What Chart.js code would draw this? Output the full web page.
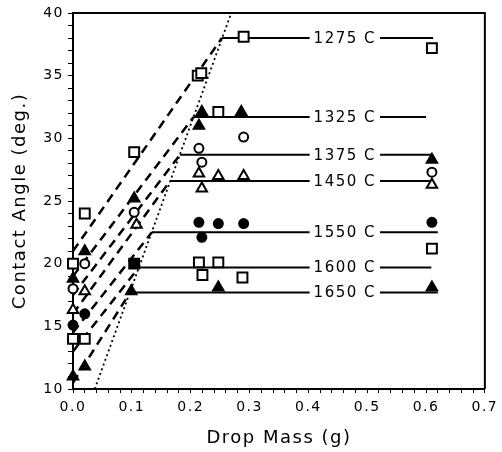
<!DOCTYPE html>
<html>
<head>
<meta charset="utf-8">
<script src="https://cdn.jsdelivr.net/npm/chart.js@4.4.1/dist/chart.umd.min.js"></script>
<style>
  html, body { margin: 0; padding: 0; background: #fff; }
  #wrap { width: 502px; height: 452px; }
</style>
</head>
<body>
<div id="wrap"><canvas id="myChart" width="502" height="452"></canvas></div>
<script>
// temperatures and their plateau lines
const temps = ["1275 C", "1325 C", "1375 C", "1450 C", "1550 C", "1600 C", "1650 C"];
const plateauAngle = [38.0, 31.7, 28.7, 26.6, 22.5, 19.7, 17.7];
const plateauFrom = [0.253, 0.205, 0.182, 0.165, 0.134, 0.112, 0.097];
const plateauTo = [0.612, 0.6, 0.609, 0.609, 0.62, 0.609, 0.62];
// dashed lines start on the y axis
const dashFromAngle = [21.0, 19.0, 17.5, 16.0, 14.5, 13.0, 10.5];
// dotted boundary line
const dotMass = [0.037, 0.269];
const dotAngle = [10, 40];

// measured points, by symbol
const openSquareMass = [0, 0.02, 0.104, 0.212, 0.218, 0.29, 0.61, 0.247, 0, 0.02, 0.214, 0.22, 0.247, 0.288, 0.61];
const openSquareAngle = [20, 24, 28.9, 35.0, 35.2, 38.1, 37.2, 32.1, 14, 14, 20.1, 19.1, 20.1, 18.9, 21.2];
const filledTriMass = [0, 0.02, 0.104, 0.219, 0.214, 0.286, 0.61, 0, 0.02, 0.099, 0.247, 0.61];
const filledTriAngle = [18.8, 21, 25.2, 32.1, 31, 32.1, 28.3, 11, 11.8, 17.8, 18.1, 18.1];
const openCircleMass = [0, 0.02, 0.104, 0.214, 0.219, 0.29, 0.61];
const openCircleAngle = [18, 20, 24.1, 29.2, 28.1, 30.1, 27.3];
const openTriMass = [0, 0.02, 0.108, 0.214, 0.247, 0.29, 0.219, 0.61];
const openTriAngle = [16.3, 17.8, 23.1, 27.2, 27, 27, 26, 26.3];
const filledCircleMass = [0, 0.02, 0.214, 0.219, 0.247, 0.29, 0.61];
const filledCircleAngle = [15.1, 16, 23.3, 22.1, 23.2, 23.2, 23.3];
const filledSquareMass = [0.104];
const filledSquareAngle = [20];

const LABEL_MASS = 0.462;
const FONT = "'DejaVu Sans', sans-serif";

const pts = (xs, ys) => xs.map((x, i) => ({ x: x, y: ys[i] }));

function markers(xs, ys, style, radius, filled) {
  return {
    data: pts(xs, ys),
    showLine: false,
    pointStyle: style,
    pointRadius: radius,
    pointBorderWidth: 2,
    pointBorderColor: "#000",
    pointBackgroundColor: filled ? "#000" : "#fff",
    clip: false,
  };
}

const datasets = [
  markers(openSquareMass, openSquareAngle, "rect", 7, false),
  markers(filledTriMass, filledTriAngle, "triangle", 6, true),
  markers(openCircleMass, openCircleAngle, "circle", 4.5, false),
  markers(openTriMass, openTriAngle, "triangle", 6, false),
  markers(filledCircleMass, filledCircleAngle, "circle", 4.5, true),
  markers(filledSquareMass, filledSquareAngle, "rect", 7, true),
];

// horizontal plateau lines
temps.forEach((t, i) => {
  datasets.push({
    data: [
      { x: plateauFrom[i], y: plateauAngle[i] },
      { x: plateauTo[i], y: plateauAngle[i] },
    ],
    showLine: true,
    borderColor: "#000",
    borderWidth: 2,
    pointRadius: 0,
  });
});

// dashed lines up to the plateau start
temps.forEach((t, i) => {
  datasets.push({
    data: [
      { x: 0, y: dashFromAngle[i] },
      { x: plateauFrom[i], y: plateauAngle[i] },
    ],
    showLine: true,
    borderColor: "#000",
    borderWidth: 2.5,
    borderDash: [9, 6],
    pointRadius: 0,
  });
});

datasets.push({
  data: pts(dotMass, dotAngle),
  showLine: true,
  borderColor: "#000",
  borderWidth: 1.8,
  borderDash: [2, 3],
  pointRadius: 0,
});

// temperature labels sitting on the lines + box frame
const tempLabels = {
  id: "tempLabels",
  beforeDraw(chart) {
    chart.ctx.letterSpacing = "1.5px";
  },
  afterDatasetsDraw(chart) {
    const { ctx, scales } = chart;
    ctx.save();
    ctx.letterSpacing = "1.5px";
    ctx.font = "15px " + FONT;
    ctx.textAlign = "center";
    ctx.textBaseline = "middle";
    temps.forEach((t, i) => {
      const px = scales.x.getPixelForValue(LABEL_MASS);
      const py = scales.y.getPixelForValue(plateauAngle[i]);
      const w = ctx.measureText(t).width;
      ctx.fillStyle = "#fff";
      ctx.fillRect(px - w / 2 - 4, py - 3, w + 8, 6);
      ctx.fillStyle = "#000";
      ctx.fillText(t, px, py + 1);
    });
    ctx.restore();
  },
  afterDraw(chart) {
    const { ctx, chartArea: a } = chart;
    ctx.save();
    ctx.strokeStyle = "#000";
    ctx.lineWidth = 2;
    ctx.beginPath();
    ctx.moveTo(a.left, a.top);
    ctx.lineTo(a.right, a.top);
    ctx.lineTo(a.right, a.bottom);
    ctx.stroke();
    ctx.restore();
  },
};

new Chart(document.getElementById("myChart"), {
  type: "scatter",
  data: { datasets: datasets },
  options: {
    responsive: false,
    animation: false,
    layout: { padding: { top: 13, right: 13, left: 0, bottom: 0 } },
    plugins: { legend: { display: false }, tooltip: { enabled: false } },
    scales: {
      x: {
        type: "linear",
        min: 0,
        max: 0.7,
        afterFit: (s) => { s.height = 63; },
        ticks: {
          stepSize: 0.02,
          autoSkip: false,
          maxRotation: 0,
          padding: 6,
          color: "#000",
          font: { family: FONT, size: 14 },
          callback: (v) => (Math.round(v * 50) % 5 === 0 ? v.toFixed(1) : ""),
        },
        grid: { drawOnChartArea: false, tickLength: 4, color: "#000", tickWidth: 1 },
        border: { color: "#000", width: 2 },
        title: {
          display: true,
          text: "Drop Mass (g)",
          color: "#000",
          font: { family: FONT, size: 18 },
          padding: { top: 0, bottom: 3 },
        },
      },
      y: {
        min: 10,
        max: 40,
        afterFit: (s) => { s.width = 73; },
        ticks: {
          stepSize: 1,
          autoSkip: false,
          padding: 4,
          color: "#000",
          font: { family: FONT, size: 14 },
          callback: (v) => (v % 5 === 0 ? v : ""),
        },
        grid: { drawOnChartArea: false, tickLength: 5, color: "#000", tickWidth: 1 },
        border: { color: "#000", width: 2 },
        title: {
          display: true,
          text: "Contact Angle (deg.)",
          color: "#000",
          font: { family: FONT, size: 18 },
          padding: { top: 10, bottom: 0 },
        },
      },
    },
  },
  plugins: [tempLabels],
});
</script>
</body>
</html>
